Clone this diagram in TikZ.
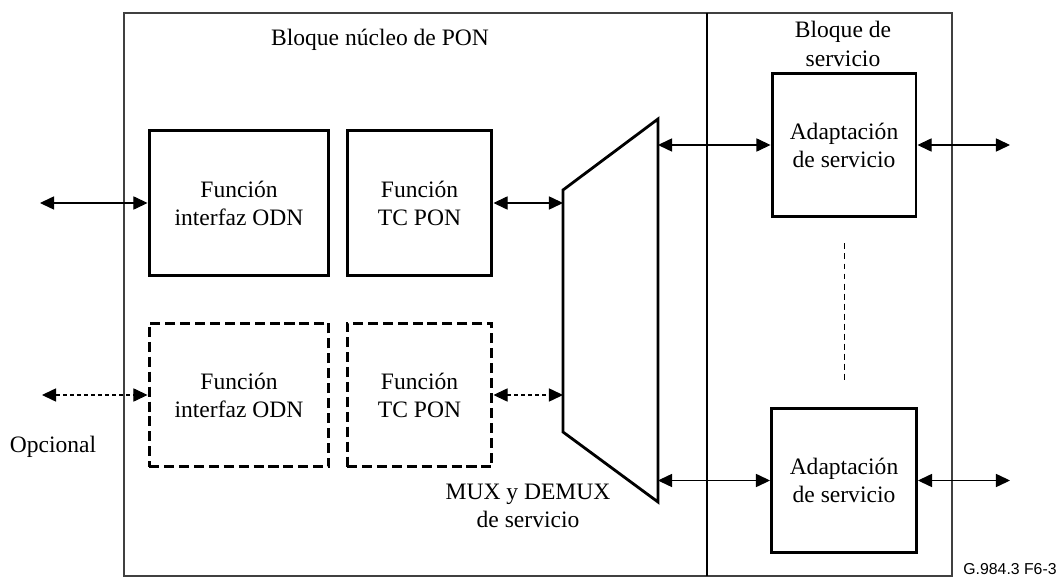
\documentclass[tikz,border=0pt]{standalone}
\usepackage{fontspec}
\setmainfont{Liberation Serif}
\newfontfamily\figsans{Liberation Sans}
\usepackage{tikz}
\usetikzlibrary{arrows.meta}
\tikzstyle{every node}=[font=\fontsize{13.4}{16}\selectfont, align=center]
\tikzstyle{bloque}=[draw, line width=1.7pt, inner sep=0pt]
\tikzstyle{opcion}=[bloque, dash pattern=on 5.7pt off 2.8pt]
\tikzstyle{flecha}=[line width=0.6pt, {Triangle[length=8pt,width=7.5pt]}-{Triangle[length=8pt,width=7.5pt]}]
\tikzstyle{flechaop}=[flecha, dash pattern=on 2.3pt off 1.7pt]

\begin{document}
\begin{tikzpicture}[x=0.02cm,y=-0.02cm]
\useasboundingbox (0,0) rectangle (1058,577);
\draw[line width=0.8pt, black!75] (124,13) rectangle (952,576);
\draw[line width=1pt] (707,13) -- (707,576);
\node (tit1) at (380,40) {Bloque núcleo de PON};
\node (tit2) at (843,44) {Bloque de\\servicio};
\node[bloque, minimum width=3.6cm, minimum height=2.92cm] (odn1) at (239,203) {Función\\interfaz ODN};
\node[bloque, minimum width=2.9cm, minimum height=2.92cm] (tc1) at (419.5,203) {Función\\TC PON};
\node[opcion, minimum width=3.6cm, minimum height=2.88cm] (odn2) at (239,395) {Función\\interfaz ODN};
\node[opcion, minimum width=2.9cm, minimum height=2.88cm] (tc2) at (419.5,395) {Función\\TC PON};
\node[bloque, minimum size=2.88cm] (ad1) at (844,145) {Adaptación\\de servicio};
\node[bloque, minimum size=2.9cm] (ad2) at (844,480.5) {Adaptación\\de servicio};
\draw[line width=1.6pt] (563,190) -- (658,119) -- (658,502) -- (563,432) -- cycle;
\coordinate (mux1) at (563,203);
\coordinate (mux2) at (563,395);
\coordinate (mux3) at (658,145);
\coordinate (mux4) at (658,480.5);
\coordinate (ext1) at (40,203);
\coordinate (ext2) at (42,395);
\coordinate (sal1) at (1010,145);
\coordinate (sal2) at (1010,480.5);
\node (mux) at (528,506) {MUX y DEMUX\\de servicio};
\node (opc) at (53,447) {Opcional};
\node[font=\figsans\fontsize{9}{10}\selectfont, anchor=base] (ref) at (1010,574) {G.984.3 F6-3};
\draw[flecha] (ext1) -- (odn1.west);
\draw[flecha] (tc1.east) -- (mux1);
\draw[flechaop] (ext2) -- (odn2.west);
\draw[flechaop] (tc2.east) -- (mux2);
\draw[flecha] (mux3) -- (ad1.west);
\draw[flecha] (ad1.east) -- (sal1);
\draw[flecha] (mux4) -- (ad2.west);
\draw[flecha] (ad2.east) -- (sal2);
\draw[line width=0.5pt, dash pattern=on 3.4pt off 2.3pt] ([yshift=-0.5cm]ad1.south) -- ([yshift=0.46cm]ad2.north);
\end{tikzpicture}
\end{document}
